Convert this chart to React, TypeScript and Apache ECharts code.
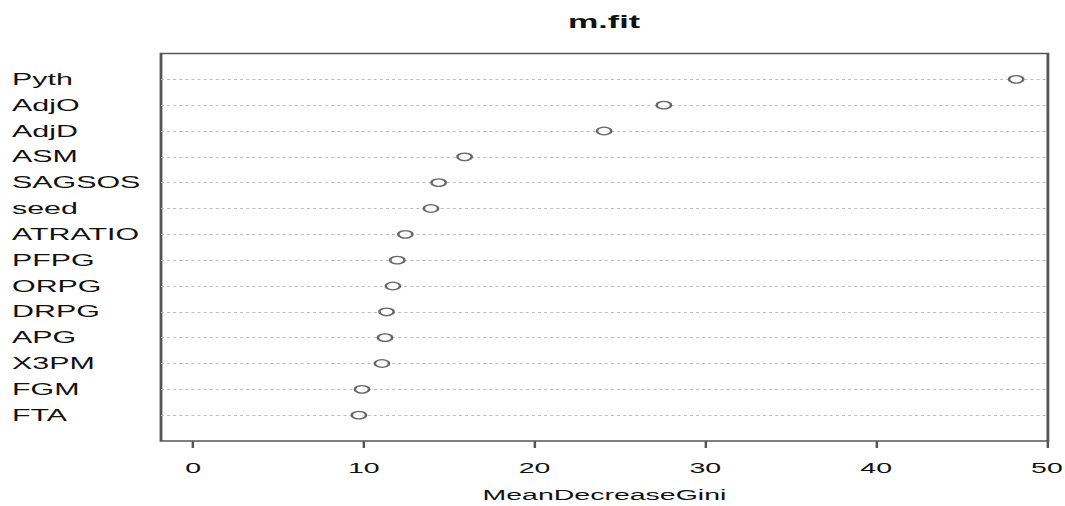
import React, { useEffect, useRef } from "react";
import * as echarts from "echarts";

// Variables, top to bottom as drawn
const variables = [
  "Pyth", "AdjO", "AdjD", "ASM", "SAGSOS", "seed", "ATRATIO",
  "PFPG", "ORPG", "DRPG", "APG", "X3PM", "FGM", "FTA",
];
const meanDecreaseGini = [
  48.2, 27.57, 24.07, 15.9, 14.38, 13.93, 12.43,
  11.96, 11.7, 11.33, 11.24, 11.06, 9.89, 9.71,
];
const xTicks = [0, 10, 20, 30, 40, 50];
const xRange = [-1.88, 50.06];
const titleText = "m.fit";
const xLabel = "MeanDecreaseGini";

// the reference is horizontally stretched; reproduce that with a CSS scale
const STRETCH = 1.9;
const FULL_W = 1065;
const FULL_H = 506;
const NAT_W = FULL_W / STRETCH;

export default function App() {
  const ref = useRef<HTMLDivElement>(null);
  useEffect(() => {
    if (!ref.current) return;
    const chart = echarts.init(ref.current, undefined, { renderer: "svg" });
    const n = variables.length;
    const points = variables.map((name, i) => [meanDecreaseGini[i], n - i]);
    const labelFor = (v: number) => {
      const idx = n - Math.round(v);
      return v >= 1 && v <= n ? variables[idx] : "";
    };
    const font = "'Liberation Sans', Arial, Helvetica, sans-serif";
    const gridLeft = 161 / STRETCH;
    const gridRightEdge = 1047 / STRETCH;
    chart.setOption({
      animation: false,
      backgroundColor: "#ffffff",
      textStyle: { fontFamily: font },
      title: {
        text: titleText,
        left: (161 + 1047) / 2 / STRETCH,
        textAlign: "center",
        top: 13,
        padding: 0,
        textStyle: { fontSize: 18, fontWeight: "bold", color: "#111", fontFamily: font },
      },
      grid: {
        left: gridLeft,
        right: NAT_W - gridRightEdge,
        top: 53.5,
        bottom: FULL_H - 441,
        outerBoundsMode: "none",
        containLabel: false,
        show: true,
        borderColor: "#555",
        borderWidth: 1.5,
        backgroundColor: "transparent",
      },
      xAxis: {
        type: "value",
        min: xRange[0],
        max: xRange[1],
        axisLine: { show: false },
        splitLine: { show: false },
        axisTick: {
          show: true,
          customValues: xTicks,
          length: 7,
          lineStyle: { color: "#555", width: 1.3 },
        },
        axisLabel: {
          customValues: xTicks,
          margin: 19,
          fontSize: 15,
          color: "#111",
          fontFamily: font,
        },
        name: xLabel,
        nameLocation: "middle",
        nameGap: 46,
        nameTextStyle: { fontSize: 15, color: "#111", fontFamily: font },
      },
      yAxis: {
        type: "value",
        min: 0,
        max: n + 1,
        interval: 1,
        axisLine: { show: false },
        axisTick: { show: false },
        axisLabel: {
          align: "left",
          margin: gridLeft - 12 / STRETCH,
          fontSize: 16,
          color: "#111",
          fontFamily: font,
          formatter: (v: number) => labelFor(v),
        },
        splitLine: {
          show: true,
          showMinLine: false,
          showMaxLine: false,
          lineStyle: { color: "#bdbdbd", width: 1, type: [1.6, 1.6] },
        },
      },
      series: [
        {
          type: "scatter",
          data: points,
          symbol: "circle",
          symbolSize: 7.5,
          itemStyle: { color: "#ffffff", borderColor: "#444", borderWidth: 1.3 },
          z: 5,
        },
      ],
    });
    return () => chart.dispose();
  }, []);

  return (
    <div
      style={{
        position: "fixed",
        left: 0,
        top: 0,
        width: FULL_W,
        height: FULL_H,
        overflow: "hidden",
        background: "#fff",
      }}
    >
      <div
        ref={ref}
        style={{
          width: NAT_W,
          height: FULL_H,
          transform: `scaleX(${STRETCH})`,
          transformOrigin: "0 0",
        }}
      />
    </div>
  );
}
